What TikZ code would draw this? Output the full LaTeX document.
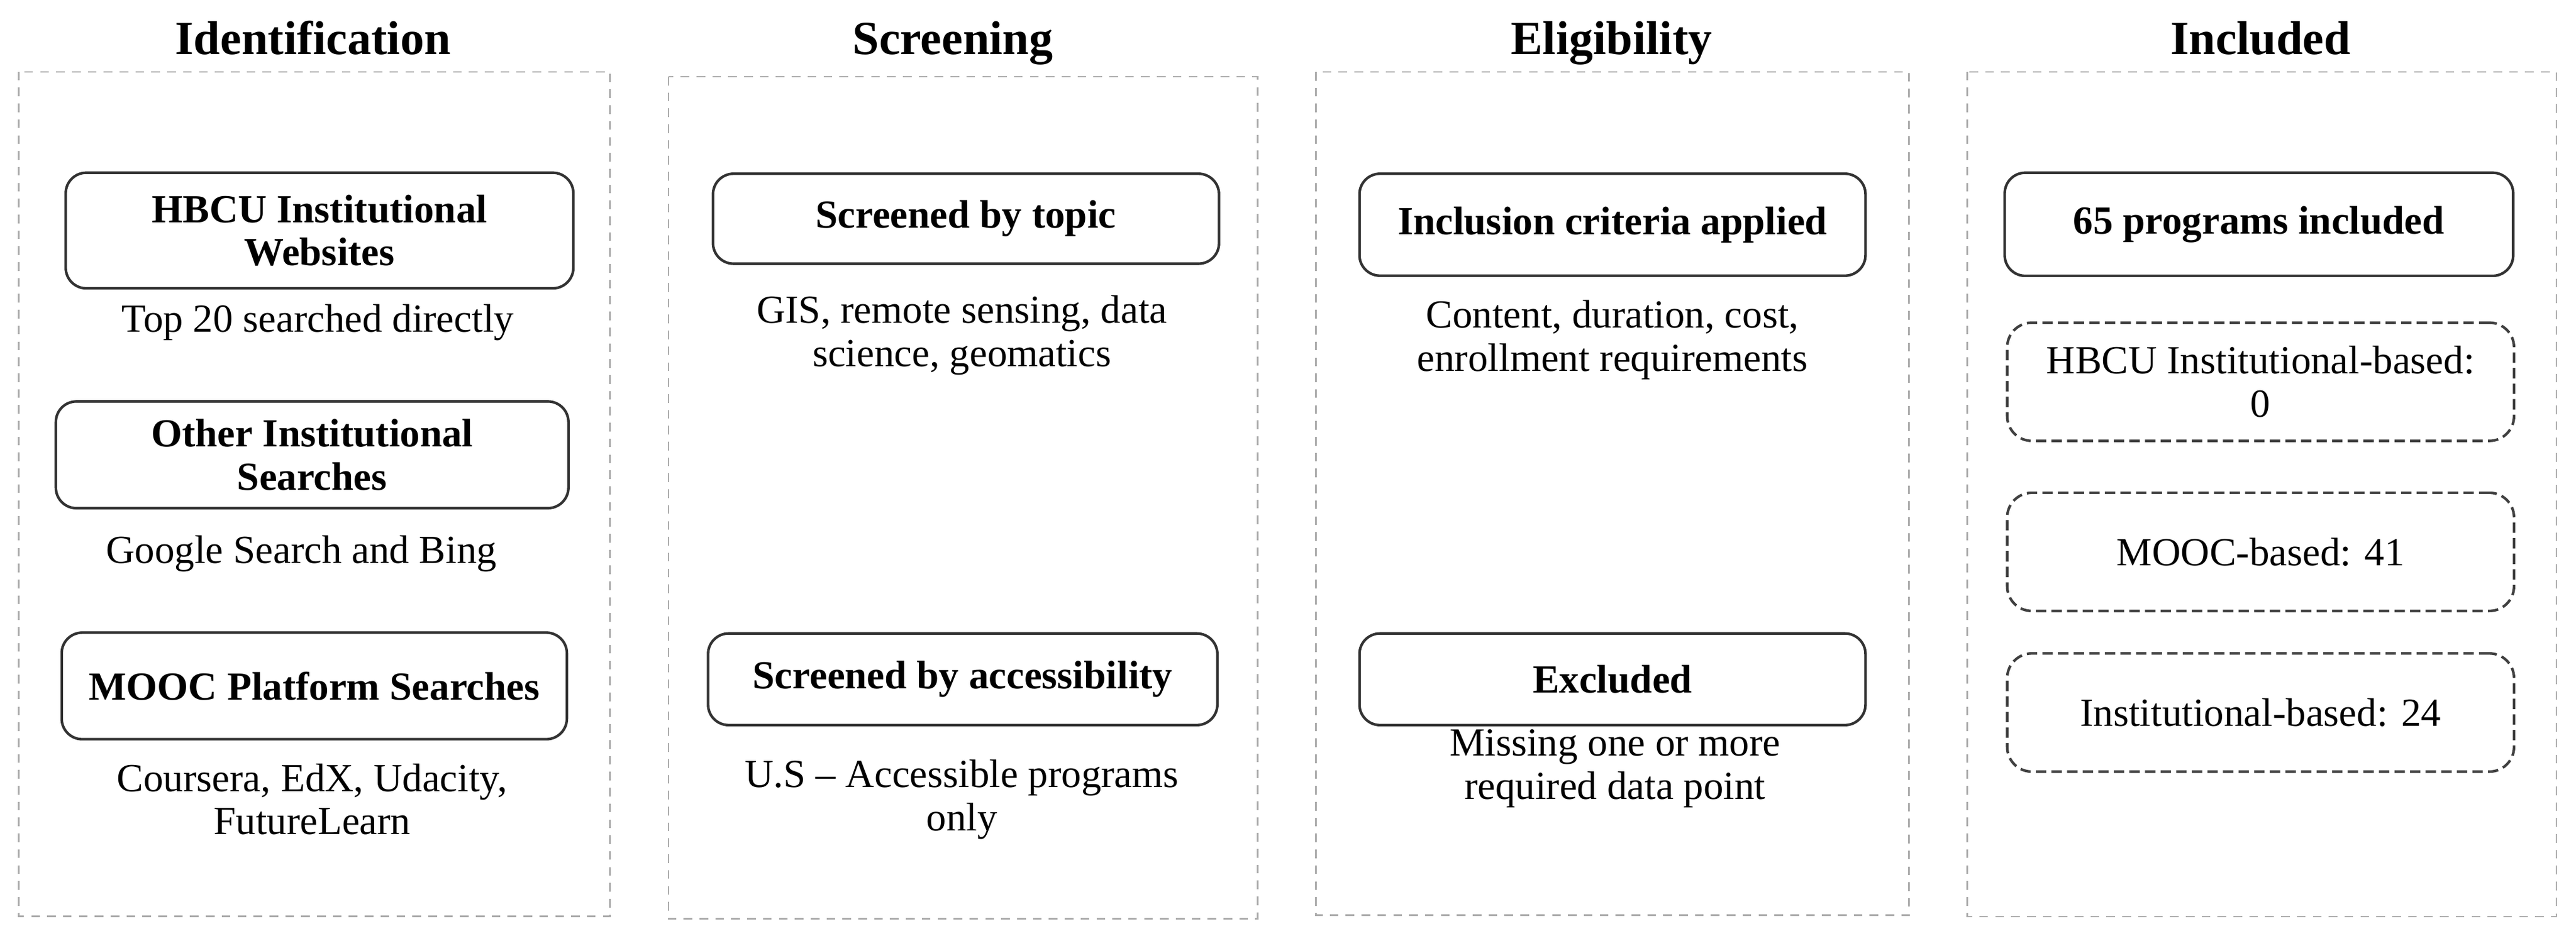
\documentclass[tikz,border=0pt]{standalone}
\usepackage{fontspec}
\setmainfont{Liberation Serif}
\usetikzlibrary{positioning}

\begin{document}
\begin{tikzpicture}[
  title/.style={font=\fontsize{16.5}{19}\selectfont\bfseries, anchor=base},
  stagebox/.style={draw=black!33, line width=0.5pt, dash pattern=on 3pt off 2.5pt},
  srcbox/.style={draw=black!80, line width=0.9pt, rounded corners=0.25cm, minimum width=6.18cm,
    align=center, inner sep=0pt, font=\fontsize{13.8}{15}\selectfont\bfseries},
  countbox/.style={draw=black!75, line width=0.9pt, dash pattern=on 3.6pt off 1.8pt, rounded corners=0.3cm,
    minimum width=6.17cm, minimum height=1.44cm, align=center, inner sep=0pt, font=\fontsize{13.8}{15}\selectfont},
  note/.style={align=center, inner sep=0pt, font=\fontsize{13.8}{15}\selectfont}
]
  \useasboundingbox (0,0) rectangle (31.36,-11.456);

  % stage frames
  \draw[stagebox] (0.228,-0.874) rectangle (7.426,-11.16);
  \draw[stagebox] (8.14,-0.934) rectangle (15.31,-11.19);
  \draw[stagebox] (16.02,-0.876) rectangle (23.24,-11.146);
  \draw[stagebox] (23.95,-0.874) rectangle (31.12,-11.166);

  \node[title] (tident) at (3.81,-0.66) {Identification};
  \node[title] (tscreen) at (11.6,-0.66) {Screening};
  \node[title] (telig) at (19.62,-0.66) {Eligibility};
  \node[title] (tincl) at (27.52,-0.66) {Included};

  % identification
  \node[srcbox, minimum height=1.408cm] (hbcu) at (3.89,-2.808) {HBCU Institutional\\Websites};
  \node[note] (top20) at (3.87,-3.93) {Top 20 searched directly};
  \node[srcbox, minimum width=6.24cm, minimum height=1.3cm] (other) at (3.80,-5.54) {Other Institutional\\Searches};
  \node[note] (google) at (3.67,-6.748) {Google Search and Bing};
  \node[srcbox, minimum width=6.15cm, minimum height=1.298cm] (mooc) at (3.826,-8.355) {MOOC Platform Searches};
  \node[note] (platforms) at (3.80,-9.736) {Coursera, EdX, Udacity,\\FutureLearn};

  % screening
  \node[srcbox, minimum width=6.16cm, minimum height=1.096cm] (topic) at (11.76,-2.664) {Screened by topic};
  \node[note] (topics) at (11.71,-4.085) {GIS, remote sensing, data\\science, geomatics};
  \node[srcbox, minimum width=6.2cm, minimum height=1.116cm] (access) at (11.72,-8.274) {Screened by accessibility};
  \node[note] (usonly) at (11.71,-9.737) {U.S -- Accessible programs\\only};

  % eligibility
  \node[srcbox, minimum width=6.16cm, minimum height=1.242cm] (criteria) at (19.63,-2.737) {Inclusion criteria applied};
  \node[note] (criterialist) at (19.63,-4.142) {Content, duration, cost,\\enrollment requirements};
  \node[srcbox, minimum width=6.16cm, minimum height=1.116cm] (excl) at (19.63,-8.274) {Excluded};
  \node[note] (missing) at (19.66,-9.362) {Missing one or more\\required data point};

  % included
  \node[srcbox, minimum width=6.19cm, minimum height=1.256cm] (total) at (27.50,-2.732) {65 programs included};
  \node[countbox] (nhbcu) at (27.52,-4.65) {HBCU Institutional-based:\\0};
  \node[countbox] (nmooc) at (27.52,-6.722) {MOOC-based: 41};
  \node[countbox] (ninst) at (27.52,-8.679) {Institutional-based: 24};
\end{tikzpicture}
\end{document}
